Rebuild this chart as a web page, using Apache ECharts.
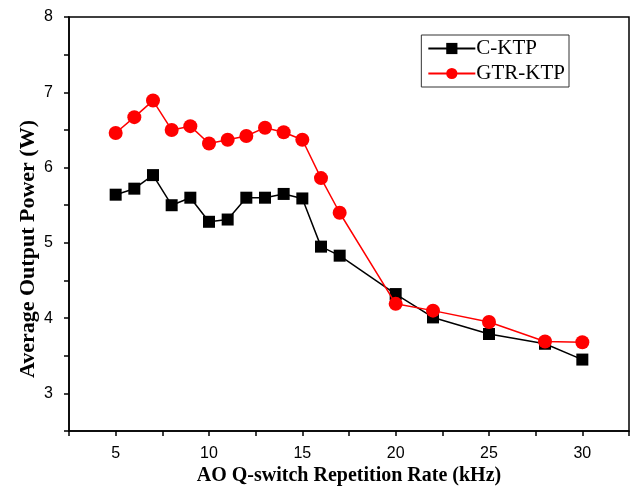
<!DOCTYPE html>
<html>
<head>
<meta charset="utf-8">
<script src="https://cdn.jsdelivr.net/npm/echarts@6/dist/echarts.min.js"></script>
<style>
  html, body { margin: 0; padding: 0; background: #fff; }
  #chart { width: 632px; height: 491px; }
</style>
</head>
<body>
<div id="chart"></div>
<script>
// repetition rate (kHz)
const rates = [5, 6, 7, 8, 9, 10, 11, 12, 13, 14, 15, 16, 17, 20, 22, 25, 28, 30]
// average output power (W)
const cKtp = [5.64, 5.72, 5.90, 5.50, 5.60, 5.28, 5.31, 5.60, 5.60, 5.65, 5.59, 4.95, 4.83, 4.32, 4.01, 3.79, 3.66, 3.45]
const gtrKtp = [6.46, 6.67, 6.89, 6.50, 6.55, 6.32, 6.37, 6.42, 6.53, 6.47, 6.37, 5.86, 5.40, 4.19, 4.10, 3.95, 3.69, 3.68]

const pair = (ys) => rates.map((x, i) => [x, ys[i]])

const chart = echarts.init(document.getElementById('chart'))

chart.setOption({
  backgroundColor: '#fff',
  animation: false,
  grid: {
    left: 69,
    top: 17,
    right: 2,
    bottom: 58,
    show: true,
    borderColor: '#000',
    borderWidth: 1.5
  },
  legend: {
    right: 63,
    top: 35,
    orient: 'vertical',
    itemWidth: 47,
    itemHeight: 14,
    itemGap: 4,
    padding: [3, 4, 3, 6],
    borderColor: '#333',
    borderWidth: 1,
    textStyle: {
      fontFamily: 'Liberation Serif',
      fontSize: 21,
      color: '#000',
      padding: [0, 0, 0, -4]
    },
    data: ['C-KTP', 'GTR-KTP']
  },
  xAxis: {
    type: 'value',
    min: 2.5,
    max: 32.5,
    interval: 2.5,
    name: 'AO Q-switch Repetition Rate (kHz)',
    nameLocation: 'middle',
    nameGap: 34,
    nameTextStyle: {
      fontFamily: 'Liberation Serif',
      fontWeight: 'bold',
      fontSize: 20,
      color: '#000'
    },
    axisLine: { onZero: false, lineStyle: { color: '#000', width: 1.5 } },
    axisTick: { show: true, inside: false, length: 5, lineStyle: { color: '#000', width: 1.5 } },
    axisLabel: {
      margin: 14,
      fontFamily: 'Liberation Sans',
      fontSize: 16,
      color: '#000',
      formatter: (v) => (v % 5 === 0 ? String(v) : '')
    },
    splitLine: { show: false }
  },
  yAxis: {
    type: 'value',
    min: 2.5,
    max: 8,
    interval: 0.5,
    name: 'Average Output Power (W)',
    nameLocation: 'middle',
    nameGap: 30,
    nameMoveOverlap: false,
    nameTextStyle: {
      fontFamily: 'Liberation Serif',
      fontWeight: 'bold',
      fontSize: 22,
      color: '#000',
      padding: [0, 50, 0, 0]
    },
    axisLine: { show: true, onZero: false, lineStyle: { color: '#000', width: 1.5 } },
    axisTick: { show: true, inside: false, length: 5, lineStyle: { color: '#000', width: 1.5 } },
    axisLabel: {
      margin: 16,
      fontFamily: 'Liberation Sans',
      fontSize: 16,
      color: '#000',
      formatter: (v) => (v % 1 === 0 ? String(v) : '')
    },
    splitLine: { show: false }
  },
  series: [
    {
      name: 'C-KTP',
      type: 'line',
      data: pair(cKtp),
      symbol: 'rect',
      symbolSize: 12,
      itemStyle: { color: '#000' },
      lineStyle: { color: '#000', width: 1.5 },
      z: 2
    },
    {
      name: 'GTR-KTP',
      type: 'line',
      data: pair(gtrKtp),
      symbol: 'circle',
      symbolSize: 14,
      itemStyle: { color: '#ff0000' },
      lineStyle: { color: '#ff0000', width: 1.5 },
      z: 3
    }
  ]
})
</script>
</body>
</html>
